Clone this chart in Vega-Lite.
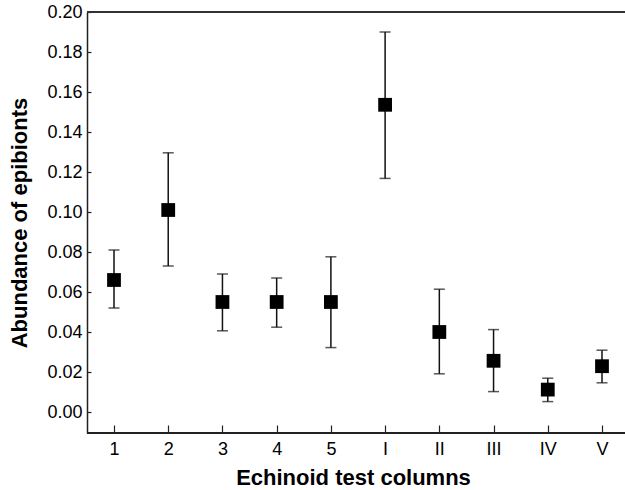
{
  "$schema": "https://vega.github.io/schema/vega-lite/v6.json",
  "autosize": "none",
  "padding": {"left": 87, "top": 12, "right": 0, "bottom": 57},
  "width": 538,
  "height": 421,
  "config": {
    "view": {"stroke": null},
    "font": "Liberation Sans",
    "axis": {
      "domainColor": "#222",
      "domainWidth": 1.5,
      "tickColor": "#222",
      "tickWidth": 1.2,
      "grid": false,
      "labelFont": "Liberation Sans",
      "labelFontSize": 18,
      "labelColor": "#000",
      "titleFont": "Liberation Sans",
      "titleFontSize": 22,
      "titleFontWeight": "bold",
      "titleColor": "#000"
    }
  },
  "data": {
    "values": [
      {"col": "1", "mean": 0.066, "lo": 0.052, "hi": 0.081},
      {"col": "2", "mean": 0.101, "lo": 0.073, "hi": 0.1296},
      {"col": "3", "mean": 0.055, "lo": 0.0406, "hi": 0.069},
      {"col": "4", "mean": 0.055, "lo": 0.0424, "hi": 0.067},
      {"col": "5", "mean": 0.055, "lo": 0.0322, "hi": 0.0776},
      {"col": "I", "mean": 0.1536, "lo": 0.1168, "hi": 0.190},
      {"col": "II", "mean": 0.040, "lo": 0.0191, "hi": 0.0614},
      {"col": "III", "mean": 0.0256, "lo": 0.0102, "hi": 0.0412},
      {"col": "IV", "mean": 0.0112, "lo": 0.0052, "hi": 0.0169},
      {"col": "V", "mean": 0.0229, "lo": 0.0146, "hi": 0.0309}
    ]
  },
  "encoding": {
    "x": {
      "field": "col",
      "type": "ordinal",
      "sort": null,
      "scale": {"type": "point", "range": [27, 515], "padding": 0},
      "axis": {
        "title": "Echinoid test columns",
        "labelAngle": 0,
        "domain": false,
        "tickSize": -8,
        "labelPadding": 15,
        "titlePadding": 9,
        "titleX": 266
      }
    }
  },
  "layer": [
    {
      "mark": {"type": "rule", "color": "#333", "strokeWidth": 1.5},
      "encoding": {"x": null, "y": {"datum": 0.2, "type": "quantitative"}}
    },
    {
      "mark": {"type": "rule", "color": "#222", "strokeWidth": 1.5},
      "encoding": {"x": null, "y": {"datum": -0.0105, "type": "quantitative"}}
    },
    {
      "mark": {"type": "rule", "color": "#111", "strokeWidth": 1.5},
      "encoding": {
        "y": {
          "field": "lo",
          "type": "quantitative",
          "scale": {"domain": [-0.0105, 0.2], "nice": false, "zero": false},
          "axis": {
            "title": "Abundance of epibionts",
            "format": ".2f",
            "values": [0, 0.02, 0.04, 0.06, 0.08, 0.1, 0.12, 0.14, 0.16, 0.18, 0.2],
            "tickSize": -4,
            "labelPadding": 9,
            "titlePadding": 15
          }
        },
        "y2": {"field": "hi"}
      }
    },
    {
      "mark": {"type": "tick", "color": "#111", "size": 11, "thickness": 1.5},
      "encoding": {"y": {"field": "lo", "type": "quantitative"}}
    },
    {
      "mark": {"type": "tick", "color": "#111", "size": 11, "thickness": 1.5},
      "encoding": {"y": {"field": "hi", "type": "quantitative"}}
    },
    {
      "mark": {"type": "point", "shape": "square", "filled": true, "color": "#000", "size": 190, "opacity": 1},
      "encoding": {"y": {"field": "mean", "type": "quantitative"}}
    }
  ]
}
